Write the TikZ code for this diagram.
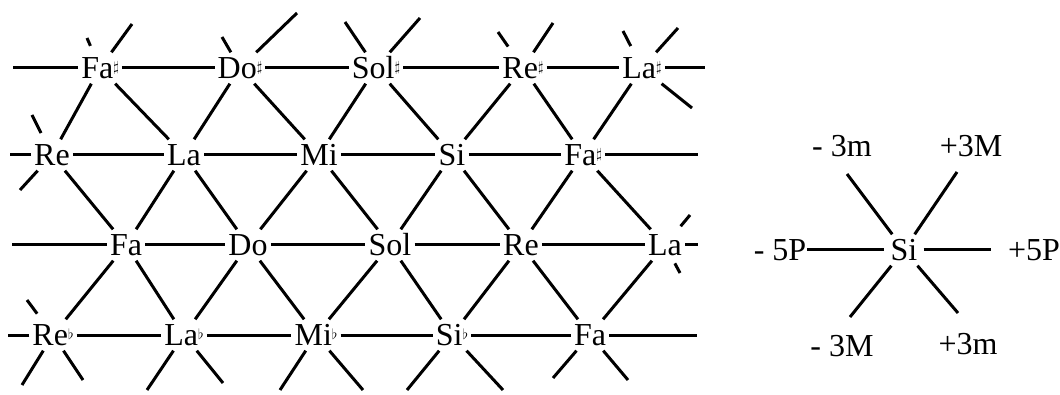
\documentclass[tikz,border=0pt]{standalone}
\usepackage{fontspec}
\setmainfont{Liberation Serif}
\newcommand{\shp}{\raisebox{7pt}{\fontsize{14}{14}\selectfont$\sharp$}}
\newcommand{\flt}{\raisebox{6pt}{\fontsize{14}{14}\selectfont$\flat$}}
\begin{document}
\begin{tikzpicture}[x=1pt,y=-1pt,
  note/.style={inner xsep=3pt, inner ysep=5pt, text height=21pt, text depth=0pt,
    font=\fontsize{32}{36}\selectfont},
  lab/.style={note, inner xsep=1pt},
  ln/.style={line width=3pt, line cap=butt},
  tick/.style={ln, shorten <=7pt}]
\useasboundingbox (0,0) rectangle (1060,395);
% row 1
\node[note] (F1) at (100,68) {Fa\shp};
\node[note] (C1) at (240,68) {Do\shp};
\node[note] (G1) at (376,68) {Sol\shp};
\node[note] (D1) at (523,68) {Re\shp};
\node[note] (A1) at (642,68) {La\shp};
% row 2
\node[note] (D2) at (52,155) {Re};
\node[note] (A2) at (184,155) {La};
\node[note] (E2) at (319,155) {Mi};
\node[note] (B2) at (452,155) {Si};
\node[note] (F2) at (583,155) {Fa\shp};
% row 3
\node[note] (F3) at (126,245) {Fa};
\node[note] (C3) at (248,245) {Do};
\node[note] (G3) at (390,245) {Sol};
\node[note] (D3) at (521,245) {Re};
\node[note] (A3) at (665,245) {La};
% row 4
\node[note] (Db) at (53,335) {Re\flt};
\node[note] (Ab) at (184,335) {La\flt};
\node[note] (Eb) at (316,335) {Mi\flt};
\node[note] (Bb) at (452,335) {Si\flt};
\node[note] (F4) at (590,335) {Fa};
% horizontal
\foreach \a/\b in {F1/C1,C1/G1,G1/D1,D1/A1, D2/A2,A2/E2,E2/B2,B2/F2, F3/C3,C3/G3,G3/D3,D3/A3, Db/Ab,Ab/Eb,Eb/Bb,Bb/F4}
  \draw[ln] (\a) -- (\b);
% diagonals
\foreach \a/\b in {F1/D2,F1/A2,C1/A2,C1/E2,G1/E2,G1/B2,D1/B2,D1/F2,A1/F2,
  D2/F3,A2/F3,A2/C3,E2/C3,E2/G3,B2/G3,B2/D3,F2/D3,F2/A3,
  F3/Db,F3/Ab,C3/Ab,C3/Eb,G3/Eb,G3/Bb,D3/Bb,D3/F4,A3/F4}
  \draw[ln] (\a) -- (\b);
% free ends
\coordinate (h1l) at (13,68);  \coordinate (h1r) at (705,68);
\coordinate (h2l) at (10,155); \coordinate (h2r) at (698,155);
\coordinate (h3l) at (12,245); \coordinate (h3r) at (698,245);
\coordinate (h4l) at (8,335);  \coordinate (h4r) at (697,335);
\foreach \n/\c in {F1/h1l,A1/h1r,D2/h2l,F2/h2r,F3/h3l,A3/h3r,Db/h4l,F4/h4r}
  \draw[ln] (\n) -- (\c);
\coordinate (F1ul) at (87,38);  \coordinate (F1ur) at (132,24);
\coordinate (C1ul) at (222,37); \coordinate (C1ur) at (297,13);
\coordinate (G1ul) at (345,22); \coordinate (G1ur) at (420,18);
\coordinate (D1ul) at (498,32); \coordinate (D1ur) at (553,23);
\coordinate (A1ul) at (623,31); \coordinate (A1ur) at (678,28);
\coordinate (A1dr) at (692,108);
\coordinate (D2ul) at (32,115); \coordinate (D2dl) at (20,190);
\coordinate (A3ur) at (690,215); \coordinate (A3dr) at (680,273);
\coordinate (Dbul) at (27,300); \coordinate (Dbdl) at (22,385); \coordinate (Dbdr) at (83,380);
\coordinate (Abdl) at (147,390); \coordinate (Abdr) at (223,383);
\coordinate (Ebdl) at (280,390); \coordinate (Ebdr) at (363,390);
\coordinate (Bbdl) at (407,390); \coordinate (Bbdr) at (503,390);
\coordinate (F4dl) at (553,378); \coordinate (F4dr) at (628,380);
\foreach \n/\c in {F1/F1ur,C1/C1ul,C1/C1ur,G1/G1ul,G1/G1ur,D1/D1ur,A1/A1ur,A1/A1dr,
  D2/D2dl,Db/Dbdl,Db/Dbdr,Ab/Abdl,Ab/Abdr,Eb/Ebdl,Eb/Ebdr,Bb/Bbdl,Bb/Bbdr,F4/F4dl,F4/F4dr}
  \draw[ln] (\n) -- (\c);
\foreach \n/\c in {F1/F1ul,D1/D1ul,A1/A1ul,D2/D2ul,Db/Dbul}
  \draw[tick] (\n) -- (\c);
\draw[ln, shorten <=4pt] (A3) -- (A3ur);
\draw[ln, shorten <=3pt] (A3) -- (A3dr);
% right star
\node[note, inner xsep=6pt] (si) at (904,250) {Si};
\node[lab] (p5n) at (780,250) {- 5P};
\node[lab] (p5p) at (1034,250) {+5P};
\node[lab] (m3n) at (842,146) {- 3m};
\node[lab] (M3p) at (971,146) {+3M};
\node[lab] (M3n) at (842,346) {- 3M};
\node[lab] (m3p) at (968,344) {+3m};
\draw[ln] (p5n) -- (si);
\draw[ln, shorten >=16pt] (si) -- (p5p);
\coordinate (sul) at (847,174); \coordinate (sur) at (957,172);
\coordinate (sdl) at (850,317); \coordinate (sdr) at (958,313);
\foreach \c in {sul,sur,sdl,sdr} \draw[ln] (si) -- (\c);
\end{tikzpicture}
\end{document}
